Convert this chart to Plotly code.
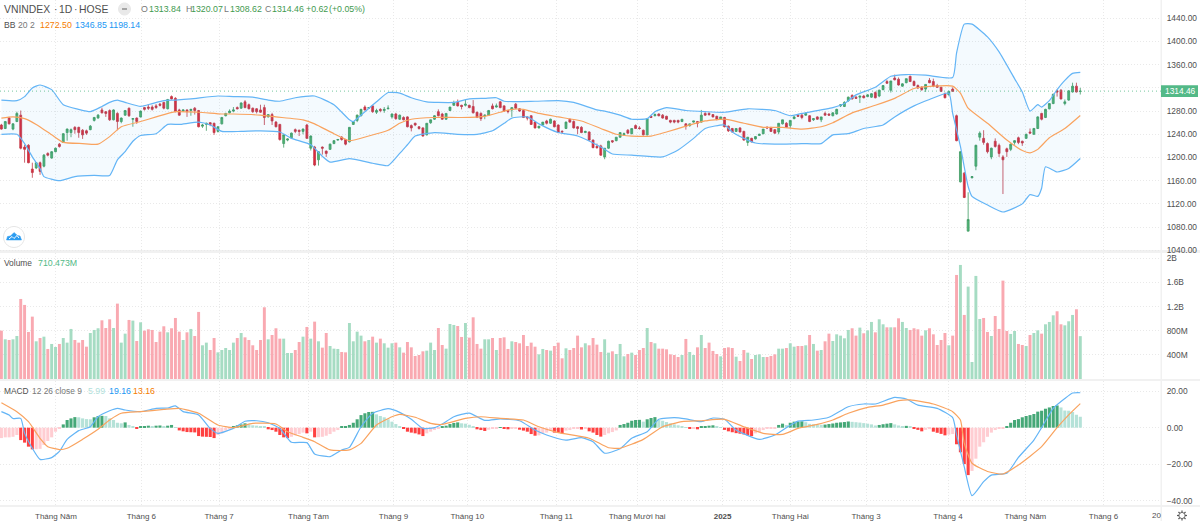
import math
import plotly.graph_objects as go

opens = [
    1256,1250,1268,1249,1262,1273,1218,1221,1180,1182,
    1191,1185,1207,1199,1210,1223,1226,1243,1243,1252,
    1252,1247,1246,1248,1264,1268,1282,1279,1281,1265,
    1276,1262,1273,1285,1266,1268,1270,1286,1287,1287,
    1289,1292,1295,1284,1305,1302,1282,1280,1282,1281,
    1285,1281,1254,1257,1260,1259,1245,1258,1272,1277,
    1280,1286,1285,1296,1291,1285,1284,1282,1286,1270,
    1274,1261,1257,1224,1230,1234,1248,1247,1245,1256,
    1216,1218,1196,1218,1211,1214,1224,1230,1235,1231,
    1227,1257,1264,1272,1287,1285,1289,1278,1283,1281,
    1284,1270,1275,1266,1269,1270,1255,1259,1253,1251,
    1239,1260,1266,1279,1275,1266,1281,1290,1295,1290,
    1290,1290,1288,1278,1276,1272,1273,1289,1287,1296,
    1289,1281,1282,1292,1284,1281,1270,1272,1261,1251,
    1256,1263,1259,1263,1256,1245,1250,1266,1262,1253,
    1252,1243,1244,1230,1219,1220,1201,1216,1229,1229,
    1235,1239,1247,1241,1255,1251,1247,1239,1271,1272,
    1275,1273,1271,1264,1264,1264,1262,1258,1255,1261,
    1262,1261,1276,1276,1274,1271,1266,1269,1254,1250,
    1245,1251,1245,1226,1233,1232,1238,1241,1252,1251,
    1248,1244,1258,1259,1255,1267,1273,1273,1273,1272,
    1265,1270,1265,1276,1275,1272,1275,1289,1288,1298,
    1307,1304,1304,1306,1305,1304,1312,1306,1317,1331,
    1316,1337,1335,1323,1329,1340,1331,1324,1321,1318,
    1333,1331,1324,1321,1310,1308,1318,1272,1158,1173,
    1073,1165,1185,1235,1233,1224,1201,1228,1221,1201,
    1215,1214,1226,1234,1228,1233,1244,1240,1250,1276,
    1269,1284,1293,1315,1316,1293,1299,1313,1323,1313.84,
]
highs = [
    1258,1263,1270,1259,1279,1281,1222,1223,1191,1192,
    1193,1206,1209,1211,1217,1225,1242,1250,1250,1254,
    1253,1249,1248,1256,1270,1275,1286,1280,1283,1283,
    1278,1269,1282,1286,1268,1269,1281,1287,1292,1290,
    1292,1294,1296,1301,1307,1304,1284,1283,1283,1284,
    1287,1282,1258,1260,1261,1260,1254,1270,1277,1283,
    1287,1288,1295,1299,1293,1286,1285,1291,1291,1275,
    1277,1263,1258,1239,1233,1243,1250,1248,1250,1258,
    1238,1220,1211,1219,1212,1224,1230,1232,1237,1232,
    1252,1262,1274,1284,1290,1286,1290,1284,1285,1287,
    1290,1276,1277,1274,1271,1271,1257,1260,1254,1252,
    1259,1265,1273,1283,1277,1276,1287,1298,1300,1291,
    1300,1291,1299,1279,1278,1274,1282,1293,1293,1297,
    1290,1282,1286,1294,1285,1282,1271,1273,1262,1254,
    1261,1265,1267,1264,1257,1247,1262,1267,1264,1254,
    1254,1246,1245,1231,1224,1222,1216,1229,1230,1235,
    1243,1243,1249,1250,1257,1254,1248,1267,1272,1276,
    1276,1275,1272,1265,1265,1265,1266,1259,1258,1263,
    1263,1282,1278,1278,1275,1272,1270,1270,1255,1251,
    1250,1252,1246,1235,1234,1237,1241,1249,1254,1253,
    1249,1259,1265,1261,1264,1272,1275,1276,1278,1273,
    1268,1271,1270,1279,1276,1278,1284,1292,1297,1305,
    1309,1306,1306,1308,1309,1311,1314,1317,1325,1334,
    1332,1343,1338,1328,1336,1341,1333,1326,1323,1326,
    1337,1336,1327,1322,1312,1315,1321,1274,1211,1175,
    1140,1168,1222,1245,1247,1226,1217,1233,1224,1204,
    1217,1224,1230,1236,1229,1241,1250,1251,1271,1277,
    1284,1293,1310,1317,1318,1300,1316,1329,1329,1320.07,
]
lows = [
    1248,1249,1257,1247,1261,1214,1191,1190,1165,1180,
    1170,1183,1202,1198,1209,1217,1225,1229,1235,1241,
    1234,1232,1239,1247,1262,1267,1276,1270,1263,1264,
    1247,1259,1272,1270,1253,1258,1269,1281,1282,1281,
    1284,1288,1283,1283,1300,1278,1272,1279,1270,1272,
    1274,1252,1251,1246,1254,1239,1243,1257,1271,1276,
    1278,1283,1284,1285,1283,1277,1276,1277,1256,1269,
    1256,1252,1229,1217,1228,1233,1242,1237,1240,1232,
    1212,1185,1186,1205,1201,1213,1223,1229,1229,1221,
    1226,1256,1261,1271,1281,1284,1277,1275,1278,1277,
    1283,1267,1265,1265,1264,1252,1245,1254,1248,1236,
    1238,1258,1265,1271,1265,1265,1280,1289,1288,1283,
    1288,1285,1276,1268,1263,1266,1272,1283,1286,1285,
    1279,1276,1270,1284,1279,1268,1264,1256,1250,1250,
    1255,1257,1258,1252,1242,1243,1249,1260,1250,1240,
    1242,1242,1229,1216,1215,1203,1197,1215,1225,1228,
    1234,1238,1241,1240,1249,1248,1238,1238,1268,1271,
    1271,1267,1265,1259,1259,1259,1261,1248,1253,1260,
    1252,1260,1272,1272,1269,1264,1265,1252,1244,1243,
    1244,1243,1229,1220,1226,1231,1237,1240,1249,1244,
    1241,1240,1257,1251,1250,1266,1270,1266,1272,1261,
    1263,1265,1261,1272,1272,1271,1274,1287,1287,1296,
    1300,1301,1294,1302,1304,1303,1302,1304,1316,1327,
    1312,1333,1324,1322,1328,1330,1323,1318,1315,1313,
    1328,1322,1320,1313,1302,1307,1313,1228,1157,1130,
    1073,1164,1178,1229,1222,1207,1197,1217,1201,1137,
    1201,1211,1222,1223,1220,1232,1242,1239,1249,1264,
    1268,1283,1292,1305,1300,1290,1298,1312,1312,1308.62,
]
closes = [
    1249,1262,1258,1258,1276,1216,1214,1191,1174,1191,
    1176,1204,1204,1210,1216,1219,1241,1249,1248,1248,
    1243,1239,1242,1254,1269,1273,1277,1276,1265,1282,
    1262,1268,1281,1272,1267,1262,1280,1283,1285,1283,
    1286,1290,1285,1300,1301,1279,1273,1282,1279,1283,
    1281,1253,1256,1259,1257,1243,1253,1269,1276,1280,
    1282,1284,1294,1286,1284,1279,1279,1278,1269,1274,
    1263,1253,1231,1239,1232,1242,1245,1245,1249,1233,
    1237,1187,1210,1216,1207,1223,1229,1231,1231,1223,
    1252,1262,1273,1283,1282,1286,1279,1281,1281,1283,
    1285,1275,1267,1273,1265,1253,1251,1256,1250,1237,
    1259,1265,1272,1272,1266,1276,1287,1294,1289,1288,
    1292,1286,1277,1269,1267,1273,1281,1284,1289,1286,
    1280,1279,1286,1285,1280,1269,1268,1257,1251,1254,
    1261,1259,1266,1253,1243,1244,1261,1261,1251,1250,
    1243,1245,1230,1217,1217,1204,1216,1228,1227,1235,
    1243,1241,1242,1250,1250,1250,1239,1267,1269,1274,
    1272,1268,1266,1261,1261,1261,1266,1254,1258,1263,
    1259,1273,1273,1274,1270,1266,1270,1253,1246,1244,
    1250,1244,1230,1235,1227,1236,1240,1249,1251,1245,
    1242,1259,1265,1252,1264,1270,1271,1269,1276,1262,
    1267,1266,1270,1273,1273,1277,1283,1291,1295,1304,
    1301,1302,1306,1303,1308,1310,1303,1316,1324,1328,
    1332,1334,1325,1327,1336,1331,1324,1320,1317,1326,
    1329,1323,1321,1314,1303,1314,1314,1229,1210,1131,
    1093,1167,1221,1242,1226,1210,1216,1219,1207,1196,
    1210,1223,1229,1226,1225,1240,1242,1250,1270,1266,
    1283,1293,1309,1313,1301,1296,1315,1323,1313,1314.46,
]

# volume in millions
volume = [
    802,658,647,658,713,1327,1228,780,1034,625,
    680,702,498,581,531,581,680,603,830,647,
    603,647,536,763,813,841,973,846,990,846,
    1250,603,752,979,968,630,940,802,824,813,
    614,785,874,774,841,1012,785,647,774,830,
    713,1112,559,603,481,680,442,481,514,481,
    603,680,763,691,647,559,481,647,1189,658,
    730,841,669,669,431,431,481,614,702,863,
    669,951,625,520,763,547,503,498,448,442,
    929,625,785,719,625,647,702,603,669,592,
    520,592,603,
    525,437,614,525,382,398,459,470,603,481,
    846,564,503,912,896,879,697,929,686,1023,
    581,503,658,658,680,481,680,691,498,625,
    614,592,730,547,603,536,409,498,481,470,
    547,603,343,509,481,514,719,525,592,559,
    680,570,448,658,437,459,415,581,376,415,
    437,398,481,514,846,614,592,503,503,492,
    409,398,365,398,664,448,398,525,730,514,
    603,465,415,376,514,525,514,370,299,481,
    437,332,398,409,365,365,382,409,503,503,
    514,592,536,547,
    547,559,730,581,470,481,625,752,630,741,
    719,675,813,841,719,852,758,807,946,774,
    990,907,857,857,857,1006,946,846,813,841,
    824,719,807,841,741,564,647,763,559,719,
    1725,1891,1062,1532,282,1709,995,1012,780,713,
    1045,830,1631,796,747,796,581,564,547,730,
    763,807,752,907,946,1056,1123,907,890,957,
    1062,1156,710.473,
]

macd_hist = [
    -5.7,-5.3,-5.3,-5,-4,-6.8,-8.2,-10.4,-11.9,-11.8,
    -11.6,-9.5,-7.3,-5.3,-2.2,-.5,1.8,4.2,5.1,5.8,
    5.7,5.1,4.7,4.6,5.7,6.4,6.5,6.4,5.1,4.2,
    2.7,2.4,2.9,1.5,.5,-.7,.4,.7,1.1,.5,
    1.1,1.2,.7,1.1,1.5,.3,-1.5,-2,-2.4,-2.5,
    -2.6,-4.6,-4.9,-5,-5.1,-5.7,-4,-3.1,-1.6,-.7,
    .5,1.3,1.8,2.4,1.8,1.3,1.1,.9,.4,-.9,
    -1.3,-2.2,-4,-5.3,-5.7,-5,-4.2,-3.5,-2.7,-3.1,
    -2.2,-5.3,-5.2,-5,-4.4,-3.5,-2.2,-1.3,.4,.7,
    1.5,2.7,4.6,6.9,7.9,8.6,8.7,7.3,6.4,5.7,
    4.6,3.3,2,.9,-.5,-2.2,-2.7,-3.1,-3.7,-4.6,
    -3.1,-2.2,-1.3,-.5,.4,1.1,2,2.6,2.9,2.4,
    2.2,1.6,.7,-.9,-1.3,-1.8,-1.1,-.7,-.4,.2,
    -.7,-.9,-.5,-.3,-1.1,-1.6,-2.2,-3.5,-4.4,-4.2,
    -3.1,-2.7,-1.6,-2.7,-2.8,-3.1,-1.6,-1.3,-.7,-.6,
    -1,-.5,-2,-2.7,-4,-4.9,-4,-3.1,-2.4,-1.5,
    1.5,2,2.7,3.8,4.2,4.3,3.3,4.6,5.3,5.8,
    4.2,3.8,3.1,2.4,1.8,1.3,.7,.2,-.5,-.4,
    -.9,.5,.9,1.1,1.3,.4,.2,-1.2,-2,-2.5,
    -3,-3.3,-3.7,-4.2,-4.6,-3.1,-2.4,-1.3,-.7,-.5,
    -.3,1.5,2.2,1.5,2.7,3.3,3.4,3.5,3,2.1,
    1.9,1.8,1.6,1.7,2,2.3,2.7,2.9,3.1,3.4,
    3.2,3,2.8,2.5,2.2,1.8,1.2,1.5,1.9,2.2,
    2.5,1.8,1.2,.8,1,.4,-.6,-1.2,-2,-1.2,
    -.8,-2.2,-2.8,-3.4,-4.2,-3.8,-3.5,-9.1,-13.5,-20,
    -26,-23.7,-17,-10.4,-8,-5,-2.7,-1.3,-.7,-.4,
    .9,2.7,4.2,4.7,5.7,6.4,6.9,7.5,8.8,9.3,
    10.4,11.1,11.9,12.2,11.1,9.4,9.3,8.6,7.1,5.99,
]

# bollinger bands and macd lines, read at the bars where the curve bends
bb_upper_bars = [0,4,6,8,10,13,16,20,23,26,28,30,32,36,39,42,45,49,56,60,65,69,72,76,81,86,90,91,94,97,100,103,
                 106,110,113,117,121,125,128,130,138,144,148,154,156,160,163,167,169,172,177,182,187,193,200,204,
                 207,215,218,221,226,230,234,239,246,247,249,251,255,258,262,264,266,268,269,271,273,275,277,279]
bb_upper = [1299,1298,1305,1320,1325,1317,1291,1283,1279,1288,1295,1299,1295,1288,1293,1298,1299,1301,1306,1305,1304,1299,1297,1303,1306,1291,1265,1262,1279,1296,1312,1311,
            1303,1296,1295,1295,1301,1302,1303,1297,1297,1298,1295,1282,1280,1273,1266,1267,1279,1286,1281,1279,1278,1284,1281,1272,
            1276,1286,1293,1308,1321,1340,1343,1342,1338,1380,1430,1430,1408,1382,1336,1313,1280,1291,1287,1298,1317,1333,1345,1346.85]
bb_basis_bars = [0,3,6,9,13,16,21,25,28,31,36,40,45,51,57,60,67,71,78,81,86,90,95,100,103,
                 106,112,119,125,129,132,135,139,144,150,155,159,163,168,172,177,182,187,192,197,202,
                 207,212,215,220,226,231,236,241,246,248,250,255,260,264,266,268,271,275,279]
bb_basis = [1268,1270,1267,1257,1239,1226,1224,1223,1236,1253,1262,1270,1279,1278,1275,1275,1273,1270,1265,1258,1241,1229,1237,1247,1259,
            1266,1269,1269,1271,1278,1283,1283,1276,1270,1263,1250,1240,1237,1237,1244,1254,1263,1266,1259,1252,1252,
            1249,1253,1260,1277,1290,1302,1319,1323,1323,1311,1285,1259,1230,1212,1208,1214,1234,1250,1272.5]
bb_lower_bars = [0,4,6,8,10,11,15,19,24,28,30,32,34,36,40,43,46,51,54,57,62,67,72,75,80,83,85,90,96,100,103,
                 105,107,112,118,123,127,130,132,136,139,144,149,155,158,163,171,175,179,182,187,189,193,195,200,
                 207,212,215,219,223,228,231,236,240,245,246,248,250,251,255,259,264,266,268,269,270,273,276,279]
bb_lower = [1240,1240,1224,1201,1181,1167,1160,1167,1169,1169,1196,1210,1228,1238,1241,1257,1257,1261,1256,1245,1245,1246,1244,1233,1222,1202,1192,1198,1190,1186,1207,
            1222,1237,1243,1240,1240,1246,1259,1268,1270,1258,1243,1237,1218,1206,1204,1201,1213,1233,1250,1256,1244,1230,1225,1223,
            1224,1224,1239,1241,1250,1256,1270,1289,1300,1311,1276,1219,1150,1133,1118,1106,1120,1136,1133,1147,1184,1175,1181,1198.14]

macd_bars = [0,2,3,5,6,8,10,13,15,17,20,23,25,28,30,32,36,40,43,45,47,51,54,56,60,63,66,69,72,75,79,81,85,88,90,93,96,100,103,
             106,109,112,114,117,121,125,129,134,138,141,146,150,153,156,160,163,167,170,174,177,181,184,187,190,196,200,203,
             206,210,214,219,223,226,231,234,237,242,246,247,249,251,254,256,260,263,267,269,272,275,277,279]
macd_line = [8.8,6.9,5,5.1,-3,-11.3,-17.4,-16.4,-13,-6.4,-1.6,.5,6,9.3,10.6,9.7,8.8,10.6,10.8,12,8.8,7,-.4,-3.1,-.4,3.5,3.8,2.7,-.4,-8,-8.2,-14.4,-15.9,-12.2,-10.8,.5,7.9,10.4,8.4,
             4.6,-.4,0,2,6,8,4,4.8,3.8,-1.3,-4,-6.8,-5.5,-7.7,-14,-11.6,-5.8,-2.2,4.6,5.5,4.8,3.3,5.3,4.6,-1.3,-6.4,-4,0,
             3.6,4.2,5.7,11.5,13,13,16.6,15.7,12.4,10.6,5.5,-4,-21.5,-37.3,-29.6,-26,-25,-16.3,-6.8,0,10.6,16,19,19.16]
signal_bars = [0,4,7,10,12,15,17,21,25,28,31,36,42,46,51,56,60,65,71,74,78,81,85,90,93,97,101,103,
               107,111,114,120,124,129,135,139,144,152,157,160,166,171,176,181,187,192,197,202,
               206,211,215,219,224,228,232,235,241,246,248,249,251,255,259,263,269,273,276,279]
signal_line = [13.7,8.8,3.3,-5.8,-10.4,-12,-11.3,-6.4,-.9,4.2,7.9,8.8,10,10.6,7.9,1.5,0,2.4,2,-2.2,-5.3,-7.7,-12.2,-12.2,-8.6,1.5,6,7.3,
               5.7,2.4,1.8,5.1,6,5.1,4.2,.5,-2.7,-5.8,-11,-11.3,-6.4,.5,3.3,3.8,4.6,.5,-3.1,-3.7,
               -.4,1.8,4.2,7.9,11.1,12.4,14.8,15.2,13,8.8,4.2,-8.6,-19.5,-24,-25.4,-20.5,-10.4,0,7,13.16]

month_bars = [14.1,36.2,56.3,79.4,101.4,120.5,143.5,164.4,186.5,204,223.6,244.8,264.8,285]
month_labels = ["Tháng Năm","Tháng 6","Tháng 7","Tháng Tám","Tháng 9","Tháng 10","Tháng 11",
                "Tháng Mười hai","<b>2025</b>","Tháng Hai","Tháng 3","Tháng 4","Tháng Năm","Tháng 6"]
price_ticks = [1040,1080,1120,1160,1200,1240,1280,1320,1360,1400,1440]
# the 1320 label sits under the last price tag
price_labels = ["1040.00","1080.00","1120.00","1160.00","1200.00","1240.00","1280.00","","1360.00","1400.00","1440.00"]
volume_ticks = [400,800,1200,1600,2000]
volume_labels = ["400M","800M","1.2B","1.6B","2B"]
macd_ticks = [-40,-20,0,20]

W, H = 1200, 521
FONT = "Liberation Sans"
GREY = "#4f4f4f"
GREEN = "#53b987"
BLUE = "#64b5f6"
ORANGE = "#f9a35f"
GRID = "#e9e9e9"
DOTS = "1px,2px"
PRICE_RANGE = [1037, 1471.6]


def px(x):
    return x / W


def py(y):
    return 1 - y / H


bars = list(range(len(closes)))
up = [c >= o for o, c in zip(opens, closes)]
vol_colors = ["#a6dcc3" if u else "#f9a9b1" for u in up]

hist_colors = []
for i, v in enumerate(macd_hist):
    rising = i == 0 or v >= macd_hist[i - 1]
    if v >= 0:
        hist_colors.append("#45a877" if rising else "#b5e2d8")
    else:
        hist_colors.append("#ffcdd2" if rising else "#ff4040")

fig = go.Figure()

fig.add_trace(go.Scatter(x=bb_upper_bars, y=bb_upper, mode="lines", line=dict(color=BLUE, width=1.2, shape="spline", smoothing=0.5)))
fig.add_trace(go.Scatter(x=bb_lower_bars, y=bb_lower, mode="lines", line=dict(color=BLUE, width=1.2, shape="spline", smoothing=0.5),
                         fill="tonexty", fillcolor="rgba(33,150,243,0.05)"))
fig.add_trace(go.Scatter(x=bb_basis_bars, y=bb_basis, mode="lines", line=dict(color=ORANGE, width=1.2, shape="spline", smoothing=0.5)))
fig.add_trace(go.Candlestick(x=bars, open=opens, high=highs, low=lows, close=closes,
                             increasing=dict(line=dict(color="#3f9a63", width=0.8), fillcolor="#4fb574"),
                             decreasing=dict(line=dict(color="#c23a48", width=0.8), fillcolor="#e0283c")))

fig.add_trace(go.Bar(x=bars, y=volume, yaxis="y2", width=0.76, marker=dict(color=vol_colors, line=dict(width=0))))

fig.add_trace(go.Bar(x=bars, y=macd_hist, yaxis="y3", width=0.8, marker=dict(color=hist_colors, line=dict(width=0))))
fig.add_trace(go.Scatter(x=macd_bars, y=macd_line, yaxis="y3", mode="lines", line=dict(color=BLUE, width=1.2, shape="spline", smoothing=0.5)))
fig.add_trace(go.Scatter(x=signal_bars, y=signal_line, yaxis="y3", mode="lines", line=dict(color=ORANGE, width=1.2, shape="spline", smoothing=0.5)))

axis_style = dict(side="right", anchor="x", automargin=False, showgrid=True, gridcolor=GRID, griddash=DOTS, gridwidth=1,
                  zeroline=False, showline=False, ticks="outside", ticklen=3, tickcolor="rgba(0,0,0,0)",
                  tickfont=dict(family=FONT, size=8.4, color=GREY), fixedrange=True)

fig.update_layout(
    width=W, height=H,
    margin=dict(l=0, r=0, t=0, b=0),
    paper_bgcolor="white", plot_bgcolor="white",
    showlegend=False, barmode="overlay", hovermode=False,
    xaxis=dict(domain=[0, px(1161)], range=[-0.36, 299.87], anchor="y3", automargin=False,
               tickmode="array", tickvals=month_bars, ticktext=month_labels,
               showgrid=True, gridcolor=GRID, griddash=DOTS, gridwidth=1, zeroline=False, showline=False,
               ticks="outside", ticklen=3, tickcolor="rgba(0,0,0,0)",
               tickfont=dict(family=FONT, size=8, color=GREY), rangeslider=dict(visible=False), fixedrange=True),
    yaxis=dict(domain=[py(252), 1], range=PRICE_RANGE, tickmode="array", tickvals=price_ticks,
               ticktext=price_labels, **axis_style),
    yaxis2=dict(domain=[py(379), py(253)], range=[0, 2089], tickmode="array", tickvals=volume_ticks,
                ticktext=volume_labels, **axis_style),
    yaxis3=dict(domain=[py(505), py(381)], range=[-42.4, 25.6], tickmode="array", tickvals=macd_ticks,
                tickformat=".2f", **axis_style),
)


def label(x, y, text, color=GREY, size=8.4, anchor="left"):
    fig.add_annotation(xref="paper", yref="paper", x=px(x), y=py(y), text=text, showarrow=False,
                       xanchor=anchor, yanchor="middle", font=dict(family=FONT, size=size, color=color),
                       borderpad=0, borderwidth=0)


# header text
label(4, 9, "VNINDEX", size=10.4)
label(59, 9, "1D", size=10.4)
label(79, 9, "HOSE", size=10.4)
label(54, 9, "·", size=10.4)
label(74, 9, "·", size=10.4)
label(141, 9.5, "O", "#777777", 8.8)
label(149, 9.5, "1313.84", "#3f9a4f", 8.8)
label(186, 9.5, "H", "#777777", 8.8)
label(191, 9.5, "1320.07", "#3f9a4f", 8.8)
label(224, 9.5, "L", "#777777", 8.8)
label(230, 9.5, "1308.62", "#3f9a4f", 8.8)
label(265, 9.5, "C", "#777777", 8.8)
label(272, 9.5, "1314.46", "#3f9a4f", 8.8)
label(306, 9.5, "+0.62", "#3f9a4f", 8.8)
label(329, 9.5, "(+0.05%)", "#3f9a4f", 8.8)

label(4, 25, "BB", size=8.6)
label(18, 25, "20 2", "#777777", 8.6)
label(40, 25, "1272.50", "#f57c00", 8.8)
label(75, 25, "1346.85", "#2196f3", 8.8)
label(109, 25, "1198.14", "#2196f3", 8.8)

label(4, 263, "Volume")
label(38, 263, "710.473M", GREEN, 8.8)

label(4, 391, "MACD")
label(32, 391, "12 26 close 9", "#777777")
label(88, 391, "5.99", "#b2dfdb", 8.8)
label(109, 391, "19.16", "#2196f3", 8.8)
label(133, 391, "13.16", "#f57c00", 8.8)

label(1152, 515, "20", size=8)

# last price line and tag
fig.add_shape(type="line", xref="paper", yref="y", x0=0, x1=px(1161), y0=closes[-1], y1=closes[-1],
              line=dict(color=GREEN, width=0.8, dash="1px,3px"))
fig.add_shape(type="rect", xref="paper", yref="y", x0=px(1161), x1=px(1198), y0=closes[-1] - 10, y1=closes[-1] + 10,
              fillcolor=GREEN, line=dict(width=0), layer="above")
price_frac = (closes[-1] - PRICE_RANGE[0]) / (PRICE_RANGE[1] - PRICE_RANGE[0])
label(1180, 252 - price_frac * 252, "1314.46", "white", 8.4, "center")

# pane separators
for y0, y1 in [(250, 253), (379, 381), (505, 507)]:
    fig.add_shape(type="rect", xref="paper", yref="paper", x0=0, x1=px(1200), y0=py(y1), y1=py(y0),
                  fillcolor="#f1f1f1", line=dict(width=0), layer="below")
fig.add_shape(type="rect", xref="paper", yref="paper", x0=px(1160.5), x1=px(1162), y0=0, y1=1,
              fillcolor="#f1f1f1", line=dict(width=0), layer="below")


def path(points, close=True):
    s = "M " + " L ".join(f"{px(x):.5f},{py(y):.5f}" for x, y in points)
    return s + (" Z" if close else "")


def circle(cx, cy, r, n=28):
    return [(cx + r * math.cos(2 * math.pi * k / n), cy + r * math.sin(2 * math.pi * k / n)) for k in range(n)]


def draw(d, fill="rgba(0,0,0,0)", color="#555555", width=1):
    fig.add_shape(type="path", xref="paper", yref="paper", path=d, fillcolor=fill, line=dict(color=color, width=width))


# collapse button in the header
draw(path(circle(124.5, 9, 6)), fill="#e9e9e9", color="#e9e9e9")
draw(path([(122, 9), (127, 9)], close=False), color="#777777", width=1.2)

# logo bottom left
draw(path(circle(14, 237, 10.5)), fill="white", color="#e6e6e6")
draw(path([(6.5, 240), (7.5, 236.5), (10.5, 236), (14, 232.5), (17.5, 235.5), (20, 236), (21.5, 240)]),
     fill="#2c9cf0", color="#2c9cf0", width=0.5)
draw(path([(9, 239), (12, 236.5), (14, 238.5), (17, 235.5), (19, 238)], close=False), color="white", width=1)

# settings gear
draw(path(circle(1182, 515.5, 3)), color="#555555", width=1)
for k in range(8):
    a = k * math.pi / 4
    draw(path([(1182 + 3 * math.cos(a), 515.5 + 3 * math.sin(a)), (1182 + 5 * math.cos(a), 515.5 + 5 * math.sin(a))], close=False),
         color="#555555", width=1.2)

fig.write_html("out.html", config=dict(displayModeBar=False),
               post_script="for (const el of [document.documentElement, document.body]) {"
                           "el.style.margin='0';el.style.height='521px';el.style.overflow='hidden';}")
